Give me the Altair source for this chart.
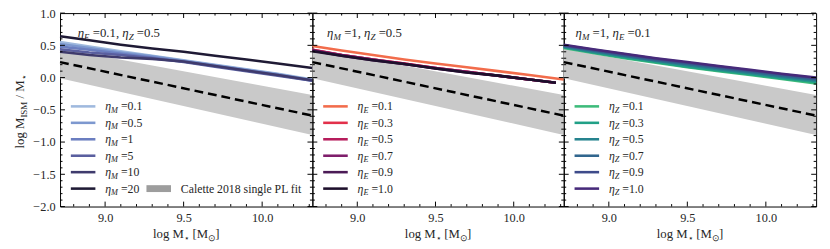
import altair as alt
import pandas as pd

# ---------------- data ----------------
x_grid = [8.713, 8.9, 9.1, 9.3, 9.5, 9.7, 9.9, 10.1, 10.32]
x_grid_short = [8.713, 8.9, 9.1, 9.3, 9.5, 9.7, 9.9, 10.1, 10.27]

# panel 1: eta_E = 0.1, eta_Z = 0.5, varying eta_M
eta_M_labels = ["0.1", "0.5", "1", "5", "10", "20"]
eta_M_curves = [
    [0.55, 0.48, 0.41, 0.34, 0.27, 0.20, 0.13, 0.06, -0.03],
    [0.52, 0.46, 0.39, 0.33, 0.26, 0.19, 0.12, 0.05, -0.04],
    [0.48, 0.43, 0.37, 0.31, 0.25, 0.18, 0.11, 0.04, -0.05],
    [0.44, 0.39, 0.35, 0.30, 0.24, 0.17, 0.10, 0.03, -0.05],
    [0.40, 0.35, 0.31, 0.29, 0.25, 0.18, 0.11, 0.04, -0.04],
    [0.64, 0.58, 0.51, 0.45, 0.40, 0.34, 0.28, 0.22, 0.15],
]

# panel 2: eta_M = 1, eta_Z = 0.5, varying eta_E
eta_E_labels = ["0.1", "0.3", "0.5", "0.7", "0.9", "1.0"]
eta_E_curves = [
    [0.49, 0.42, 0.35, 0.28, 0.22, 0.16, 0.10, 0.04, -0.03],
    [0.43, 0.35, 0.28, 0.22, 0.15, 0.09, 0.03, -0.03, -0.08],
    [0.43, 0.35, 0.28, 0.22, 0.15, 0.09, 0.03, -0.03, -0.08],
    [0.42, 0.35, 0.28, 0.21, 0.15, 0.09, 0.03, -0.03, -0.08],
    [0.42, 0.34, 0.27, 0.21, 0.14, 0.08, 0.03, -0.03, -0.08],
    [0.41, 0.34, 0.27, 0.21, 0.14, 0.08, 0.03, -0.03, -0.08],
]

# panel 3: eta_M = 1, eta_E = 0.1, varying eta_Z
eta_Z_labels = ["0.1", "0.3", "0.5", "0.7", "0.9", "1.0"]
eta_Z_curves = [
    [0.46, 0.38, 0.30, 0.23, 0.16, 0.10, 0.04, -0.02, -0.09],
    [0.47, 0.39, 0.31, 0.24, 0.17, 0.11, 0.05, -0.01, -0.07],
    [0.48, 0.40, 0.33, 0.26, 0.19, 0.13, 0.07, 0.01, -0.05],
    [0.49, 0.42, 0.34, 0.27, 0.21, 0.15, 0.09, 0.03, -0.03],
    [0.50, 0.43, 0.36, 0.29, 0.23, 0.17, 0.11, 0.05, -0.01],
    [0.51, 0.44, 0.37, 0.30, 0.24, 0.18, 0.12, 0.06, 0.00],
]

# Calette 2018 single power-law fit
calette_x = [8.713, 10.32]
calette_fit = [0.24, -0.59]
calette_lo = [-0.01, -0.89]
calette_hi = [0.45, -0.27]

x_tick_labels = [9.0, 9.5, 10.0]
y_tick_labels = [-2.0, -1.5, -1.0, -0.5, 0.0, 0.5, 1.0]

# ---------------- styling ----------------
blues = ["#9fb9de", "#7d98cf", "#6b7ec0", "#5a5f9f", "#3f3b6d", "#1f1a35"]
rocket = ["#f26c4b", "#e2304a", "#b61d5c", "#7f1e6b", "#4b1b56", "#1d0f2b"]
virid = ["#3dbb7a", "#21a086", "#26838e", "#31668e", "#3e4b8a", "#472a7a"]

FONT = "Liberation Serif"
TXT = "#262626"
H = 197
XDOM = [8.713, 10.32]
YDOM = [-2.0, 1.0]
SUB = 0.7
ONE = pd.DataFrame({"k": [0]})

REG = {" ": .25, ".": .25, ",": .25, "=": .564, "/": .278, "[": .333, "]": .333,
       "l": .278, "o": .5, "g": .5, "M": .889, "I": .333, "S": .556, "E": .611,
       "Z": .611, "η": .5, "⋆": .6, "⊙": .8}
ITA = {"M": .833, "E": .611, "Z": .556, "η": .5}


def text_w(s, size, italic):
    w = 0
    for c in s:
        if c.isdigit():
            w += .5
        elif italic and c in ITA:
            w += ITA[c]
        else:
            w += REG.get(c, .5)
    return w * size


def rich(pieces, x, y, size, align="left", angle=0):
    sizes = [size * SUB if st.startswith("s") else size for _, st in pieces]
    widths = [text_w(t, fs, st.endswith("i")) for (t, st), fs in zip(pieces, sizes)]
    off = 0 if align == "left" else -sum(widths) / 2
    out = []
    for (t, st), fs, w in zip(pieces, sizes, widths):
        lead = len(t) - len(t.lstrip(" "))
        kw = dict(text=t.strip(" "), font=FONT, fontSize=fs,
                  fontStyle="italic" if st.endswith("i") else "normal",
                  align="left", baseline="middle",
                  dx=off + lead * 0.25 * fs,
                  dy=size * 0.3 if st.startswith("s") else 0, color=TXT)
        if angle:
            kw["angle"] = angle
        out.append(alt.Chart(ONE).mark_text(**kw).encode(x=alt.value(x), y=alt.value(y)))
        off += w
    return out


def frange(a, b, step):
    n = int(round((b - a) / step))
    return [round(a + i * step, 2) for i in range(n + 1)]


def panel(W, labels, curves, colors, sub, grids, annot, annot_x, show_y, calette_leg):
    xs = alt.Scale(domain=XDOM, nice=False, zero=False)
    ys = alt.Scale(domain=YDOM, nice=False, zero=False)
    xax = alt.Axis(values=x_tick_labels, format=".1f", ticks=False, tickSize=0,
                   domain=False, grid=False, labelFont=FONT, labelFontSize=12.5,
                   labelColor=TXT, labelPadding=5, title=None)
    if show_y:
        yax = alt.Axis(values=y_tick_labels, format=".1f", ticks=False, tickSize=0,
                       domain=False, grid=False, labelFont=FONT, labelFontSize=12.5,
                       labelColor=TXT, labelPadding=5, title=None)
    else:
        yax = None

    def X(f):
        return alt.X(f, type="quantitative", scale=xs, axis=xax)

    def Y(f):
        return alt.Y(f, type="quantitative", scale=ys, axis=yax)

    cal = pd.DataFrame({"x": calette_x, "fit": calette_fit, "lo": calette_lo, "hi": calette_hi})
    layers = [
        alt.Chart(cal).mark_area(color="#c9c9c9").encode(x=X("x"), y=Y("lo"), y2="hi"),
        alt.Chart(cal).mark_line(color="black", strokeWidth=2.5, strokeDash=[9, 5]).encode(
            x=X("x"), y=Y("fit")),
    ]
    for lab, vals, col, xg in zip(labels, curves, colors, grids):
        df = pd.DataFrame({"x": xg, "y": vals})
        layers.append(alt.Chart(df).mark_line(color=col, strokeWidth=2.6).encode(x=X("x"), y=Y("y")))

    # inward ticks on all four sides
    ymaj = pd.DataFrame({"v": frange(-2.0, 1.0, 0.5)})
    ymin = pd.DataFrame({"v": [v for v in frange(-2.0, 1.0, 0.1) if round(v * 2, 6) != round(v * 2)]})
    xmaj = pd.DataFrame({"v": [9.0, 9.5, 10.0]})
    xmin = pd.DataFrame({"v": [v for v in frange(8.8, 10.3, 0.1) if round(v * 2, 6) != round(v * 2)]})
    for df, L in ((ymaj, 5), (ymin, 2.5)):
        layers.append(alt.Chart(df).mark_rule(color="black", strokeWidth=1).encode(
            y=Y("v"), x=alt.value(0), x2=alt.value(L)))
        layers.append(alt.Chart(df).mark_rule(color="black", strokeWidth=1).encode(
            y=Y("v"), x=alt.value(W - L), x2=alt.value(W)))
    for df, L in ((xmaj, 5), (xmin, 2.5)):
        layers.append(alt.Chart(df).mark_rule(color="black", strokeWidth=1).encode(
            x=X("v"), y=alt.value(0), y2=alt.value(L)))
        layers.append(alt.Chart(df).mark_rule(color="black", strokeWidth=1).encode(
            x=X("v"), y=alt.value(H - L), y2=alt.value(H)))

    # legend
    for i, (lab, col) in enumerate(zip(labels, colors)):
        ry = 95 + 16.75 * i
        layers.append(alt.Chart(ONE).mark_rule(color=col, strokeWidth=2.6).encode(
            x=alt.value(11), x2=alt.value(36), y=alt.value(ry)))
        layers += rich([("η", "i"), (sub, "si"), (" =" + lab, "n")], 46, ry, 12)
    if calette_leg:
        ry = 95 + 16.75 * 5
        layers.append(alt.Chart(ONE).mark_rect(color="#9d9d9d").encode(
            x=alt.value(88), x2=alt.value(113), y=alt.value(ry - 3.5), y2=alt.value(ry + 3.5)))
        layers += rich([("Calette 2018 single PL fit", "n")], 123, ry, 12)

    # panel annotation
    layers += rich(annot, annot_x, 20, 13)
    # x title
    layers += rich([("log M", "n"), ("⋆", "sn"), (" [M", "n"), ("⊙", "sn"), ("]", "n")],
                   W / 2, H + 28, 13, align="center")
    if show_y:
        layers += rich([("log M", "n"), ("ISM", "sn"), (" / M", "n"), ("⋆", "sn")],
                       -41, H / 2 + 2, 13, align="center", angle=270)
    return alt.layer(*layers).properties(width=W, height=H)


p1 = panel(257, eta_M_labels, eta_M_curves, blues, "M", [x_grid] * 6,
           [("η", "i"), ("E", "si"), (" =0.1, ", "n"), ("η", "i"), ("Z", "si"), (" =0.5", "n")],
           18, True, True)
p2 = panel(256, eta_E_labels, eta_E_curves, rocket, "E", [x_grid] + [x_grid_short] * 5,
           [("η", "i"), ("M", "si"), (" =1, ", "n"), ("η", "i"), ("Z", "si"), (" =0.5", "n")],
           15, False, False)
p3 = panel(257, eta_Z_labels, eta_Z_curves, virid, "Z", [x_grid] * 6,
           [("η", "i"), ("M", "si"), (" =1, ", "n"), ("η", "i"), ("E", "si"), (" =0.1", "n")],
           12, False, False)

chart = alt.hconcat(p1, p2, p3, spacing=0, bounds="flush").properties(
    padding={"left": 5, "top": -4, "right": 0, "bottom": 0}
).configure_view(stroke="black", strokeWidth=1)

chart.save("out.html", embed_options={"renderer": "svg", "actions": False})
